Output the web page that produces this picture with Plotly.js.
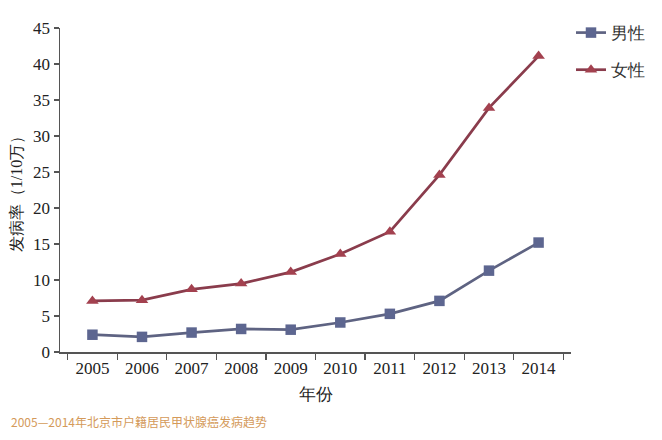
<!DOCTYPE html>
<html>
<head>
<meta charset="utf-8">
<script src="https://cdn.plot.ly/plotly-3.0.1.min.js"></script>
<style>
  html, body { margin: 0; padding: 0; background: #ffffff; }
  #chart { width: 662px; height: 440px; }
</style>
</head>
<body>
<div id="chart"></div>
<script>
// Thyroid cancer incidence (per 100,000), Beijing registered residents
const years = ['2005', '2006', '2007', '2008', '2009', '2010', '2011', '2012', '2013', '2014'];
const male = [2.4, 2.1, 2.7, 3.2, 3.1, 4.1, 5.3, 7.1, 11.3, 15.2];
const female = [7.1, 7.2, 8.7, 9.5, 11.1, 13.6, 16.7, 24.6, 33.9, 41.1];
const seriesNames = ['男性', '女性'];
const yTicks = [0, 5, 10, 15, 20, 25, 30, 35, 40, 45];

const serif = '"Liberation Serif", "DejaVu Serif", serif';

const traces = [
  {
    x: years, y: male, name: seriesNames[0], type: 'scatter', mode: 'lines+markers',
    legendgroup: 'm',
    line: { color: '#5e6382', width: 2.7 },
    marker: { symbol: 'square', size: 10.5, color: '#5d6690' }
  },
  {
    x: years, y: female, name: seriesNames[1], type: 'scatter', mode: 'lines+markers',
    legendgroup: 'f',
    line: { color: '#8a3c4c', width: 2.7 },
    marker: { symbol: 'triangle-up', size: 11, color: '#a3414f' }
  }
];

const layout = {
  width: 662, height: 440,
  font: { family: serif },
  paper_bgcolor: '#ffffff', plot_bgcolor: '#ffffff',
  margin: { l: 60, r: 84, t: 28, b: 88 },
  showlegend: true,
  legend: {
    x: 1.0, y: 1.04, xanchor: 'left', yanchor: 'top',
    font: { family: serif, size: 17, color: '#333333' },
    traceorder: 'grouped', tracegroupgap: 12, itemwidth: 30,
    bgcolor: 'rgba(0,0,0,0)'
  },
  xaxis: {
    type: 'category',
    tickson: 'boundaries',
    ticks: 'outside', ticklen: 6, tickwidth: 1.2, tickcolor: '#555555',
    showline: true, linecolor: '#555555', linewidth: 1.5,
    showgrid: false, zeroline: false,
    tickfont: { family: serif, size: 17, color: '#222222' },
    title: { text: '年份', font: { family: serif, size: 17, color: '#222222' }, standoff: 11 }
  },
  yaxis: {
    range: [0, 45], tickvals: yTicks,
    ticks: 'outside', ticklen: 5, tickwidth: 1.2, tickcolor: '#555555',
    showline: true, linecolor: '#555555', linewidth: 1.5,
    showgrid: false, zeroline: false,
    tickfont: { family: serif, size: 17, color: '#222222' },
    title: { text: '发病率（1/10万）', font: { family: serif, size: 16, color: '#222222' }, standoff: 6 }
  },
  annotations: [
    {
      xref: 'paper', yref: 'paper', x: -0.1, y: -0.216,
      xanchor: 'left', yanchor: 'middle', showarrow: false,
      text: '2005—2014年北京市户籍居民甲状腺癌发病趋势',
      font: { family: '"Noto Sans CJK SC", sans-serif', size: 12, color: '#d49a5a' }
    }
  ]
};

Plotly.newPlot('chart', traces, layout, { displayModeBar: false, staticPlot: true });
</script>
</body>
</html>
